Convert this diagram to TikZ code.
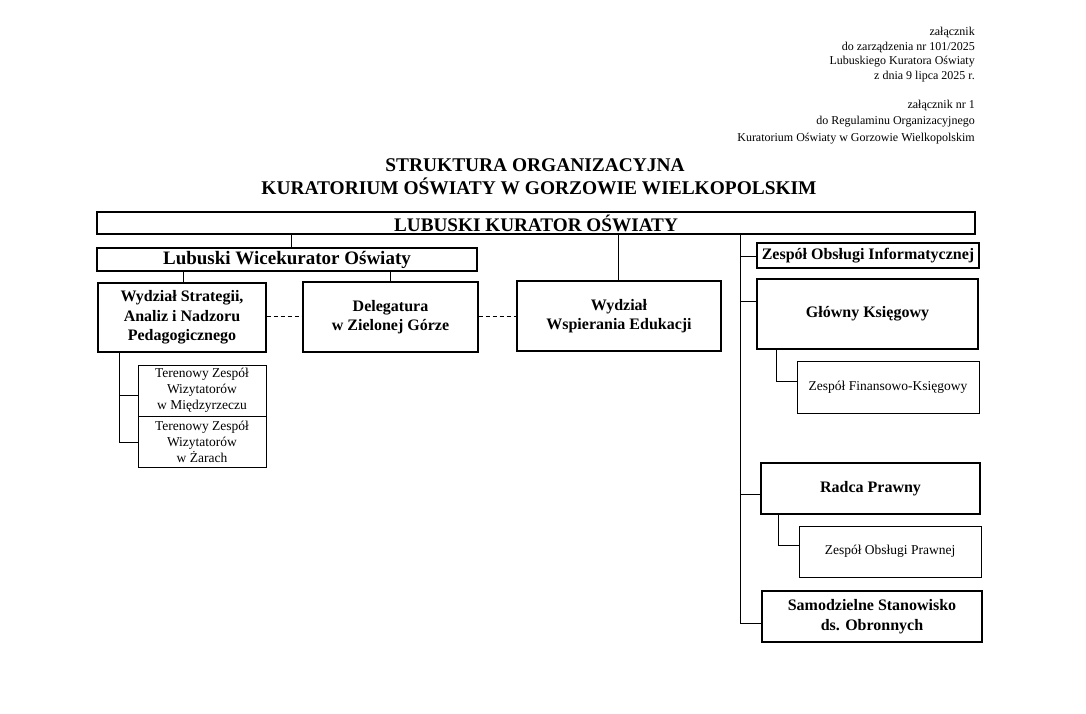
\documentclass[tikz,border=0pt]{standalone}
\usepackage{fontspec}
\setmainfont{Liberation Serif}
\begin{document}
\begin{tikzpicture}[x=1pt,y=-1pt,
  box/.style={draw,line width=1.2pt,inner sep=1pt,align=center,font=\fontsize{16}{19.5}\selectfont\bfseries},
  sbox/.style={draw,line width=1pt,inner sep=1pt,align=center,font=\fontsize{13.5}{16}\selectfont},
  conn/.style={line width=0.9pt},
  dconn/.style={line width=0.9pt,dash pattern=on 4pt off 3pt}]
\useasboundingbox (0,0) rectangle (1086,713);
\node[anchor=north east,align=right,inner sep=0pt,font=\fontsize{12}{14.5}\selectfont] (hdr1) at (975,27)
  {załącznik\\do zarządzenia nr 101/2025\\Lubuskiego Kuratora Oświaty\\z dnia 9 lipca 2025 r.};
\node[anchor=north east,align=right,inner sep=0pt,font=\fontsize{12}{16.5}\selectfont] (hdr2) at (975,99.5)
  {załącznik nr 1\\do Regulaminu Organizacyjnego\\Kuratorium Oświaty w Gorzowie Wielkopolskim};
\node[font=\fontsize{19.4}{23}\selectfont\bfseries] (t1) at (535,165) {STRUKTURA ORGANIZACYJNA};
\node[font=\fontsize{19.4}{23}\selectfont\bfseries] (t2) at (539,186) {KURATORIUM OŚWIATY W GORZOWIE WIELKOPOLSKIM};

\node[box,font=\fontsize{19.2}{20}\selectfont\bfseries,minimum width=878pt,minimum height=22pt,inner sep=0pt] (kur) at (536,223) {LUBUSKI KURATOR OŚWIATY};
\node[box,font=\fontsize{19}{20}\selectfont\bfseries,minimum width=380pt,minimum height=23pt,inner sep=0pt] (wice) at (287,259.5) {Lubuski Wicekurator Oświaty};
\node[box,minimum width=168pt,minimum height=69pt] (strat) at (182,317.5) {Wydział Strategii,\\Analiz i Nadzoru\\Pedagogicznego};
\node[box,minimum width=175pt,minimum height=70pt] (deleg) at (390.5,317) {Delegatura\\w Zielonej Górze};
\node[box,minimum width=204pt,minimum height=70pt] (wsp) at (619,316) {Wydział\\Wspierania Edukacji};
\node[box,minimum width=222pt,minimum height=25pt,inner sep=0pt] (zoi) at (868,255.5) {Zespół Obsługi Informatycznej};
\node[box,minimum width=221pt,minimum height=70pt] (gk) at (867.5,314) {Główny Księgowy};
\node[sbox,minimum width=182pt,minimum height=52pt] (zfk) at (888,387) {Zespół Finansowo-Księgowy};
\node[box,minimum width=219pt,minimum height=51pt] (rp) at (870.5,488.5) {Radca Prawny};
\node[sbox,minimum width=182pt,minimum height=51pt] (zop) at (890,551.5) {Zespół Obsługi Prawnej};
\node[box,font=\fontsize{16}{20}\selectfont\bfseries,minimum width=220pt,minimum height=51pt] (sam) at (872,616.5) {Samodzielne Stanowisko\\ds. Obronnych};
\node[sbox,minimum width=128pt,minimum height=51pt,inner sep=0pt] (tz1) at (202,390.5) {Terenowy Zespół\\Wizytatorów\\w Międzyrzeczu};
\node[sbox,minimum width=128pt,minimum height=51pt,inner sep=0pt] (tz2) at (202,441.5) {Terenowy Zespół\\Wizytatorów\\w Żarach};

\draw[conn] (kur.south -| 291,0) -- (wice.north -| 291,0);
\draw[conn] (wice.south -| 183,0) -- (strat.north -| 183,0);
\draw[conn] (wice.south -| 390,0) -- (deleg.north -| 390,0);
\draw[conn] (kur.south -| 618,0) -- (wsp.north -| 618,0);
\draw[dconn] (strat.east |- 0,316) -- (deleg.west |- 0,316);
\draw[dconn] (deleg.east |- 0,316) -- (wsp.west |- 0,316);
\draw[conn] (kur.south -| 740,0) |- (sam.west |- 0,623);
\draw[conn] (740,256) -- (zoi.west |- 0,256);
\draw[conn] (740,301) -- (gk.west |- 0,301);
\draw[conn] (740,494) -- (rp.west |- 0,494);
\draw[conn] (gk.south -| 776,0) |- (zfk.west |- 0,381);
\draw[conn] (rp.south -| 778,0) |- (zop.west |- 0,545);
\draw[conn] (strat.south -| 119,0) |- (tz2.west |- 0,442);
\draw[conn] (119,395) -- (tz1.west |- 0,395);
\end{tikzpicture}
\end{document}
